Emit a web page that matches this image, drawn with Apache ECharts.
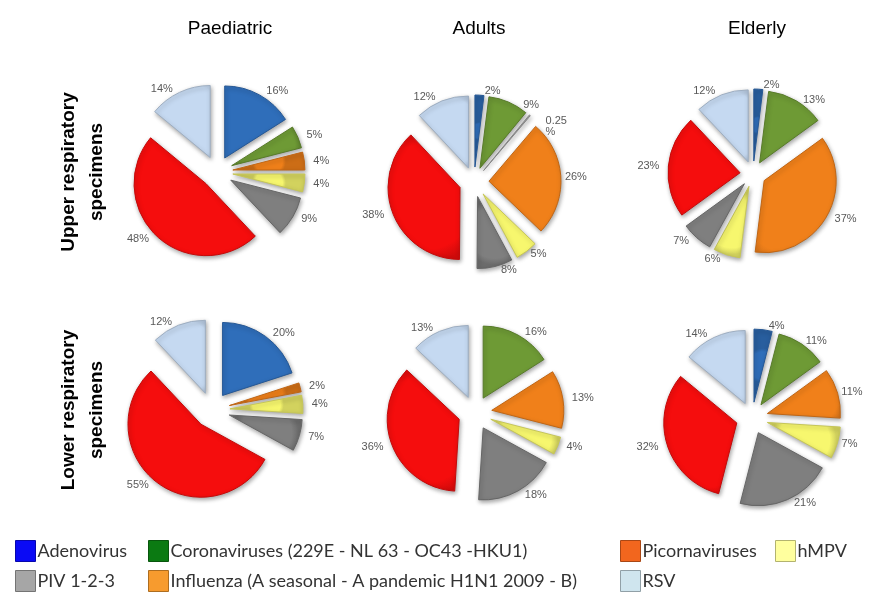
<!DOCTYPE html>
<html>
<head>
<meta charset="utf-8">
<script src="https://cdn.jsdelivr.net/npm/echarts@6/dist/echarts.min.js"></script>
<style>
html,body{margin:0;padding:0;background:#fff;}
#c{width:869px;height:598px;}
</style>
</head>
<body>
<div id="c"></div>
<script>
// Slice order in each pie (clockwise from 12 o'clock)
var categories = ['Adenovirus', 'Coronaviruses (229E - NL 63 - OC43 -HKU1)', 'Other', 'Influenza (A seasonal - A pandemic H1N1 2009 - B)', 'hMPV', 'PIV 1-2-3', 'Picornaviruses', 'RSV'];
var groups = ['Paediatric', 'Adults', 'Elderly'];
var rows = ['Upper respiratory\nspecimens', 'Lower respiratory\nspecimens'];
// percentages, same order as categories
var paediatricUpper = [16, 5, 0, 4, 4, 9, 48, 14];
var adultsUpper     = [2, 9, 0.25, 26, 5, 8, 38, 12];
var elderlyUpper    = [2, 13, 0, 37, 6, 7, 23, 12];
var paediatricLower = [20, 0, 0, 2, 4, 7, 55, 12];
var adultsLower     = [0, 16, 0, 13, 4, 18, 36, 13];
var elderlyLower    = [4, 11, 0, 11, 7, 21, 32, 14];
// legend layout (columns as in the figure)
var legendColumns = [
  ['Adenovirus', 'PIV 1-2-3'],
  ['Coronaviruses (229E - NL 63 - OC43 -HKU1)', 'Influenza (A seasonal - A pandemic H1N1 2009 - B)'],
  ['Picornaviruses', 'RSV'],
  ['hMPV']
];

var sliceColors = {
  'Adenovirus': '#2F6EBA',
  'Coronaviruses (229E - NL 63 - OC43 -HKU1)': '#6E9A35',
  'Other': '#A6A6A6',
  'Influenza (A seasonal - A pandemic H1N1 2009 - B)': '#F0801A',
  'hMPV': '#F7F76E',
  'PIV 1-2-3': '#7F7F7F',
  'Picornaviruses': '#F50D0D',
  'RSV': '#C5D9F1'
};
var legendColors = {
  'Adenovirus': '#0A0AF5',
  'Coronaviruses (229E - NL 63 - OC43 -HKU1)': '#0B7A12',
  'Picornaviruses': '#F2661E',
  'hMPV': '#FFFF9E',
  'PIV 1-2-3': '#A6A6A6',
  'Influenza (A seasonal - A pandemic H1N1 2009 - B)': '#F79B2E',
  'RSV': '#CFE5EE'
};

var pies = [
  {values: paediatricUpper, center: [217, 172], r: 72, off: 16},
  {values: adultsUpper,     center: [474, 182], r: 72, off: 15},
  {values: elderlyUpper,    center: [753, 174], r: 72, off: 13},
  {values: paediatricLower, center: [212, 410], r: 73, off: 18},
  {values: adultsLower,     center: [475, 413], r: 72, off: 17},
  {values: elderlyLower,    center: [752, 418], r: 73, off: 16}
];

function darker(hex, f) {
  var n = parseInt(hex.slice(1), 16);
  var r = Math.round(((n >> 16) & 255) * f), g = Math.round(((n >> 8) & 255) * f), b = Math.round((n & 255) * f);
  return 'rgb(' + r + ',' + g + ',' + b + ')';
}

var series = pies.map(function (p) {
  var data = [];
  categories.forEach(function (c, i) {
    if (p.values[i] > 0) {
      var col = sliceColors[c];
      data.push({
        name: c, value: p.values[i], selected: true,
        itemStyle: {
          color: new echarts.graphic.RadialGradient(0.5, 0.5, 0.9, [
            {offset: 0, color: col}, {offset: 0.8, color: col}, {offset: 1, color: darker(col, 0.85)}
          ]),
          borderColor: darker(col, 0.8), borderWidth: 1
        }
      });
    }
  });
  return {
    type: 'pie',
    center: p.center,
    radius: [0, p.r],
    startAngle: 90,
    clockwise: true,
    selectedMode: 'multiple',
    selectedOffset: p.off,
    avoidLabelOverlap: true,
    emphasis: {disabled: true, scale: false},
    itemStyle: {shadowBlur: 4, shadowOffsetX: 1, shadowOffsetY: 2, shadowColor: 'rgba(0,0,0,0.35)'},
    label: {
      show: true, position: 'outside', color: '#595959', fontSize: 11,
      fontFamily: 'Liberation Sans Narrow, Liberation Sans, Arial, sans-serif',
      formatter: function (q) { return q.value < 1 ? q.value + '\n%' : q.value + '%'; }
    },
    labelLine: {show: false, length: 4, length2: 0},
    data: data
  };
});

var legendLefts = [15, 148, 620, 775];
var legends = legendColumns.map(function (col, k) {
  return {
    orient: 'vertical', left: legendLefts[k], top: 540, padding: 0,
    icon: 'rect', itemWidth: 20, itemHeight: 21, itemGap: 8,
    selectedMode: false,
    textStyle: {fontSize: 18, color: '#333', fontFamily: 'Lato, Liberation Sans, sans-serif', padding: [0, 0, 0, -3]},
    data: col.map(function (n) {
      return {name: n, itemStyle: {color: legendColors[n], borderColor: darker(legendColors[n], 0.7), borderWidth: 1}};
    })
  };
});

var titleX = [225, 474, 752];
var titles = groups.map(function (g, i) {
  return {text: g, left: titleX[i], top: 14, textAlign: 'center',
    textStyle: {fontSize: 19, fontWeight: 'normal', color: '#000', fontFamily: 'Liberation Sans, Arial, sans-serif'}};
});

var rowY = [172, 410];
var graphics = rows.map(function (t, i) {
  return {
    type: 'text', x: 83, y: rowY[i], rotation: Math.PI / 2,
    style: {text: t, fill: '#000', font: 'bold 19px Liberation Sans, Arial, sans-serif',
      align: 'center', verticalAlign: 'middle', lineHeight: 28}
  };
});

var chart = echarts.init(document.getElementById('c'));
chart.setOption({
  animation: false,
  backgroundColor: '#fff',
  title: titles,
  legend: legends,
  graphic: graphics,
  series: series
});
</script>
</body>
</html>
